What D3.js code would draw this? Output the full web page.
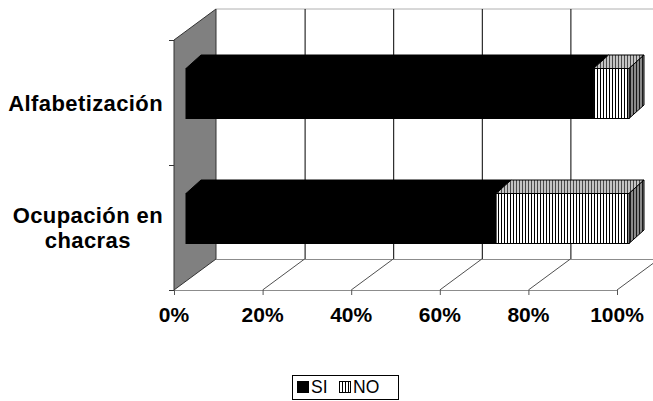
<!DOCTYPE html>
<html>
<head>
<meta charset="utf-8">
<script src="https://cdn.jsdelivr.net/npm/d3@7"></script>
<style>
  html, body { margin: 0; padding: 0; background: #fff; }
  svg { display: block; }
</style>
</head>
<body>
<script>
// ---- data ----
const categories = ["Alfabetización", "Ocupación en chacras"];
const categoryLines = [["Alfabetización"], ["Ocupación en", "chacras"]];
const seriesNames = ["SI", "NO"];
const siValues = [92, 70];
const noValues = [8, 30];
const xTickValues = [0, 20, 40, 60, 80, 100];
const xTickLabels = ["0%", "20%", "40%", "60%", "80%", "100%"];

// ---- layout ----
const W = 653, H = 401;
const font = "'Liberation Sans', Arial, sans-serif";
const DX = 42, DY = -31;            // wall depth offset
const F0 = {dx: 12, dy: -9};        // bar front face offset
const F1 = {dx: 27, dy: -22.5};     // bar back face offset

const svg = d3.select("body").append("svg").attr("width", W).attr("height", H);
const defs = svg.append("defs");
function stripe(id, bg, fg) {
  const p = defs.append("pattern").attr("id", id).attr("patternUnits", "userSpaceOnUse")
    .attr("width", 3).attr("height", 10);
  p.append("rect").attr("width", 3).attr("height", 10).attr("fill", bg);
  p.append("rect").attr("x", 0).attr("width", 1).attr("height", 10).attr("fill", fg);
}
stripe("noFront", "#ffffff", "#000000");
stripe("noTop", "#c4c4c4", "#4a4a4a");
stripe("noSide", "#8a8a8a", "#1a1a1a");

const x = d3.scaleLinear().domain([0, 100]).range([174, 617]);
const y = d3.scaleBand().domain(categories).range([40, 290]).paddingInner(0.6).paddingOuter(0.3);
const yOuter = d3.scaleBand().domain(categories).range([40, 290]);

const [x0, x1] = x.range();
const [yTop, yBot] = yOuter.range();

// back wall
svg.append("rect").attr("x", x0 + DX).attr("y", yTop + DY).attr("width", x1 - x0).attr("height", yBot - yTop)
  .attr("fill", "#fff");
svg.append("line").attr("x1", x0 + DX).attr("x2", x1 + DX).attr("y1", yTop + DY).attr("y2", yTop + DY)
  .attr("stroke", "#b0b0b0").attr("stroke-width", 1);
svg.append("g").selectAll("line").data(xTickValues.slice(1)).join("line")
  .attr("x1", d => x(d) + DX + 0.5).attr("x2", d => x(d) + DX + 0.5)
  .attr("y1", yTop + DY).attr("y2", yBot + DY)
  .attr("stroke", "#000").attr("stroke-width", 1);

// floor
svg.append("line").attr("x1", x0 + DX).attr("x2", x1 + DX).attr("y1", yBot + DY + 0.5).attr("y2", yBot + DY + 0.5)
  .attr("stroke", "#8c8c8c");
svg.append("g").selectAll("line").data(xTickValues.slice(1)).join("line")
  .attr("x1", d => x(d)).attr("y1", yBot)
  .attr("x2", d => x(d) + DX).attr("y2", yBot + DY)
  .attr("stroke", "#505050").attr("stroke-width", 1);
svg.append("line").attr("x1", x0).attr("x2", x1).attr("y1", yBot + 0.5).attr("y2", yBot + 0.5)
  .attr("stroke", "#8c8c8c");

// left wall
svg.append("polygon")
  .attr("points", [[x0, yTop], [x0 + DX, yTop + DY], [x0 + DX, yBot + DY], [x0, yBot]].join(" "))
  .attr("fill", "#808080").attr("stroke", "#333").attr("stroke-width", 1);

// axis ticks
svg.append("g").selectAll("line").data(yOuter.domain().map(c => yOuter(c)).concat([yBot])).join("line")
  .attr("x1", x0 - 5).attr("x2", x0).attr("y1", d => d + 0.5).attr("y2", d => d + 0.5)
  .attr("stroke", "#333");
svg.append("g").selectAll("line").data(xTickValues).join("line")
  .attr("x1", d => x(d) + 0.5).attr("x2", d => x(d) + 0.5).attr("y1", yBot).attr("y2", yBot + 5)
  .attr("stroke", "#555");

// tick labels
svg.append("g").selectAll("text").data(xTickValues).join("text")
  .attr("x", d => x(d)).attr("y", 322)
  .attr("text-anchor", "middle").attr("font-family", font).attr("font-weight", "bold")
  .attr("font-size", 21).attr("fill", "#000")
  .text((d, i) => xTickLabels[i]);

// category labels
const labRight = 163;
categories.forEach((c, i) => {
  const lines = categoryLines[i];
  const g = svg.append("g");
  const cy = yOuter(c) + yOuter.bandwidth() / 2;
  const lh = 25;
  const texts = lines.map((t, j) => g.append("text")
    .attr("font-family", font).attr("font-weight", "bold").attr("font-size", 22)
    .attr("letter-spacing", 0.4)
    .attr("fill", "#000").attr("text-anchor", "middle")
    .attr("y", cy + 8 + (j - (lines.length - 1) / 2) * lh)
    .text(t));
  const maxW = d3.max(texts, t => t.node().getComputedTextLength());
  texts.forEach(t => t.attr("x", labRight - maxW / 2));
});

// bars
function pts(a) { return a.map(p => p.join(",")).join(" "); }
categories.forEach((c, i) => {
  const by0 = y(c), by1 = y(c) + y.bandwidth();
  const segs = [
    {a: 0, b: siValues[i], front: "#000", top: "#000", side: "#000"},
    {a: siValues[i], b: siValues[i] + noValues[i], front: "url(#noFront)", top: "url(#noTop)", side: "url(#noSide)"}
  ];
  const g = svg.append("g");
  segs.forEach((s, k) => {
    const xa = x(s.a), xb = x(s.b);
    g.append("polygon").attr("points", pts([
      [xa + F0.dx, by0 + F0.dy], [xb + F0.dx, by0 + F0.dy], [xb + F1.dx, by0 + F1.dy], [xa + F1.dx, by0 + F1.dy]]))
      .attr("fill", s.top).attr("stroke", "#000").attr("stroke-width", 1).attr("stroke-linejoin", "round");
    if (k === segs.length - 1) {
      g.append("polygon").attr("points", pts([
        [xb + F0.dx, by0 + F0.dy], [xb + F1.dx, by0 + F1.dy], [xb + F1.dx, by1 + F1.dy], [xb + F0.dx, by1 + F0.dy]]))
        .attr("fill", s.side).attr("stroke", "#000").attr("stroke-width", 1).attr("stroke-linejoin", "round");
    }
    g.append("rect").attr("x", xa + F0.dx).attr("y", by0 + F0.dy).attr("width", xb - xa).attr("height", by1 - by0)
      .attr("fill", s.front).attr("stroke", "#000").attr("stroke-width", 1);
  });
});

// legend
const lg = svg.append("g");
lg.append("rect").attr("x", 292.5).attr("y", 375.5).attr("width", 106).attr("height", 24)
  .attr("fill", "#fff").attr("stroke", "#000");
const legItems = [
  {name: seriesNames[0], fill: "#000", sx: 297, tx: 311},
  {name: seriesNames[1], fill: "url(#noFront)", sx: 339, tx: 353}
];
legItems.forEach(it => {
  lg.append("rect").attr("x", it.sx + 0.5).attr("y", 381.5).attr("width", 11).attr("height", 11)
    .attr("fill", it.fill).attr("stroke", "#000");
  lg.append("text").attr("x", it.tx).attr("y", 393).attr("font-family", font).attr("font-size", 17.5)
    .attr("fill", "#000").text(it.name);
});
</script>
</body>
</html>
